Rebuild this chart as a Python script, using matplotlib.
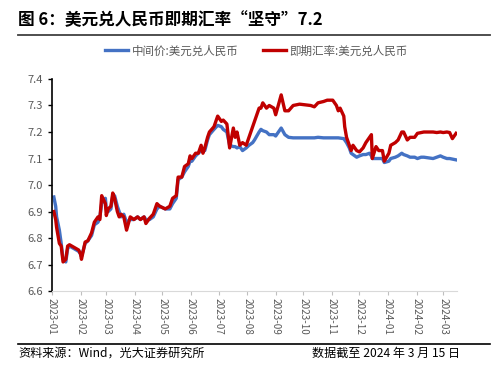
import matplotlib
matplotlib.use("Agg")
import matplotlib.pyplot as plt
import matplotlib.dates as mdates
import pandas as pd

plt.rcParams['font.family'] = ['Noto Sans CJK SC', 'DejaVu Sans']

# 日期 / 即期汇率 / 中间价 (数值读自原图)
dates = [
    "2023-01-03", "2023-01-05", "2023-01-06", "2023-01-09", "2023-01-11", "2023-01-13",
    "2023-01-16", "2023-01-18", "2023-01-20", "2023-01-30", "2023-02-01", "2023-02-02",
    "2023-02-06", "2023-02-09", "2023-02-13", "2023-02-16", "2023-02-20", "2023-02-22",
    "2023-02-24", "2023-02-28", "2023-03-01", "2023-03-03", "2023-03-06", "2023-03-08",
    "2023-03-10", "2023-03-13", "2023-03-15", "2023-03-17", "2023-03-20", "2023-03-23",
    "2023-03-27", "2023-03-31", "2023-04-04", "2023-04-07", "2023-04-11", "2023-04-13",
    "2023-04-17", "2023-04-21", "2023-04-25", "2023-04-28", "2023-05-04", "2023-05-09",
    "2023-05-12", "2023-05-16", "2023-05-18", "2023-05-22", "2023-05-25", "2023-05-29",
    "2023-05-31", "2023-06-02", "2023-06-06", "2023-06-09", "2023-06-12", "2023-06-14",
    "2023-06-16", "2023-06-19", "2023-06-21", "2023-06-26", "2023-06-30", "2023-07-04",
    "2023-07-06", "2023-07-10", "2023-07-13", "2023-07-17", "2023-07-19", "2023-07-21",
    "2023-07-24", "2023-07-27", "2023-07-31", "2023-08-03", "2023-08-07", "2023-08-09",
    "2023-08-14", "2023-08-16", "2023-08-18", "2023-08-22", "2023-08-25", "2023-08-30",
    "2023-09-01", "2023-09-07", "2023-09-11", "2023-09-15", "2023-09-20", "2023-09-27",
    "2023-10-09", "2023-10-13", "2023-10-17", "2023-10-23", "2023-10-27", "2023-11-02",
    "2023-11-06", "2023-11-08", "2023-11-10", "2023-11-14", "2023-11-15", "2023-11-17",
    "2023-11-20", "2023-11-22", "2023-11-24", "2023-11-28", "2023-12-01", "2023-12-05",
    "2023-12-08", "2023-12-12", "2023-12-14", "2023-12-15", "2023-12-19", "2023-12-22",
    "2023-12-26", "2023-12-28", "2024-01-02", "2024-01-04", "2024-01-09", "2024-01-12",
    "2024-01-16", "2024-01-18", "2024-01-22", "2024-01-25", "2024-01-30", "2024-02-02",
    "2024-02-06", "2024-02-09", "2024-02-19", "2024-02-23", "2024-02-27", "2024-03-01",
    "2024-03-05", "2024-03-08", "2024-03-11", "2024-03-13", "2024-03-15",
]
spot = [
    6.90, 6.87, 6.84, 6.78, 6.77, 6.71,
    6.72, 6.77, 6.775, 6.755, 6.74, 6.72,
    6.785, 6.79, 6.82, 6.86, 6.88, 6.87,
    6.96, 6.93, 6.885, 6.91, 6.92, 6.97,
    6.95, 6.90, 6.88, 6.89, 6.88, 6.83,
    6.88, 6.87, 6.88, 6.87, 6.88, 6.855,
    6.875, 6.89, 6.93, 6.92, 6.91, 6.92,
    6.95, 6.96, 7.03, 7.03, 7.07, 7.08,
    7.11, 7.10, 7.12, 7.12, 7.15, 7.12,
    7.14, 7.18, 7.20, 7.22, 7.26, 7.24,
    7.245, 7.23, 7.14, 7.215, 7.18, 7.20,
    7.15, 7.16, 7.15, 7.18, 7.22, 7.24,
    7.29, 7.29, 7.31, 7.29, 7.30, 7.29,
    7.265, 7.34, 7.28, 7.28, 7.30, 7.305,
    7.30, 7.295, 7.31, 7.315, 7.32, 7.32,
    7.30, 7.28, 7.29, 7.26, 7.22, 7.18,
    7.15, 7.13, 7.15, 7.13, 7.125, 7.14,
    7.16, 7.18, 7.19, 7.10, 7.145, 7.13,
    7.13, 7.09, 7.12, 7.15, 7.16, 7.17,
    7.20, 7.20, 7.17, 7.18, 7.18, 7.195,
    7.198, 7.20, 7.20, 7.198, 7.20, 7.198,
    7.20, 7.198, 7.175, 7.185, 7.195,
]
mid = [
    6.955, 6.92, 6.88, 6.83, 6.78, 6.72,
    6.71, 6.76, 6.77, 6.75, 6.74, 6.73,
    6.78, 6.79, 6.81, 6.85, 6.86, 6.88,
    6.93, 6.95, 6.91, 6.90, 6.91, 6.96,
    6.96, 6.92, 6.90, 6.88, 6.89, 6.86,
    6.87, 6.87, 6.88, 6.87, 6.88, 6.87,
    6.87, 6.88, 6.91, 6.92, 6.91, 6.91,
    6.93, 6.95, 7.02, 7.03, 7.05, 7.07,
    7.09, 7.09, 7.11, 7.12, 7.13, 7.13,
    7.13, 7.17, 7.19, 7.21, 7.225, 7.22,
    7.21, 7.20, 7.15, 7.145, 7.145, 7.14,
    7.145, 7.13, 7.14, 7.15, 7.16, 7.17,
    7.20, 7.21, 7.205, 7.20, 7.19, 7.19,
    7.185, 7.215, 7.19, 7.18, 7.178, 7.178,
    7.178, 7.178, 7.18, 7.178, 7.178, 7.178,
    7.178, 7.178, 7.177, 7.175, 7.17, 7.16,
    7.14, 7.12, 7.115, 7.105, 7.11, 7.115,
    7.115, 7.12, 7.11, 7.10, 7.10, 7.10,
    7.10, 7.085, 7.09, 7.10, 7.105, 7.11,
    7.12, 7.115, 7.11, 7.105, 7.105, 7.10,
    7.105, 7.105, 7.10, 7.105, 7.11, 7.105,
    7.10, 7.10, 7.098, 7.097, 7.095,
]
labels = ["中间价:美元兑人民币", "即期汇率:美元兑人民币"]
yticks = [6.6, 6.7, 6.8, 6.9, 7.0, 7.1, 7.2, 7.3, 7.4]

x = pd.to_datetime(dates)

fig = plt.figure(figsize=(5, 3.69), dpi=100)
ax = fig.add_axes([0.104, 0.211, 0.81, 0.575])

ax.plot(x, mid, color='#4472C4', lw=2.4, label=labels[0])
ax.plot(x, spot, color='#C00000', lw=2.4, label=labels[1])

ax.set_ylim(6.6, 7.4)
ax.set_yticks(yticks)
ax.set_yticklabels([f"{v:.1f}" for v in yticks])
ax.set_xlim(pd.Timestamp("2023-01-01"), pd.Timestamp("2024-03-16"))
ax.xaxis.set_major_locator(mdates.MonthLocator())
ax.xaxis.set_major_formatter(mdates.DateFormatter("%Y-%m"))
for lbl in ax.get_xticklabels():
    lbl.set_rotation(-90)

ax.tick_params(axis='y', labelsize=8, colors='#595959', length=3, width=1)
ax.tick_params(axis='x', labelsize=7.2, colors='#595959', length=3, width=0.8, pad=2)
ax.tick_params(axis='y', color='black')
ax.tick_params(axis='x', color='#bfbfbf')
ax.spines['top'].set_visible(False)
ax.spines['right'].set_visible(False)
ax.spines['left'].set_color('black')
ax.spines['left'].set_linewidth(1.2)
ax.spines['bottom'].set_color('#d9d9d9')

fig.legend(loc='center', bbox_to_anchor=(0.513, 0.862), ncol=2, frameon=False,
           fontsize=8.3, labelcolor='#595959', handlelength=2.0, columnspacing=2.1,
           handletextpad=0.3)

# 标题与上下分隔线
fig.text(0.036, 0.945, "图 6：美元兑人民币即期汇率“坚守”7.2", fontsize=12,
         fontweight='bold', ha='left', va='center')
fig.add_artist(plt.Line2D([0.036, 0.98], [0.905, 0.905], color='#404040', lw=1.3))
fig.add_artist(plt.Line2D([0.036, 0.98], [0.068, 0.068], color='black', lw=1.2))
fig.text(0.036, 0.043, "资料来源：Wind，光大证券研究所", fontsize=8.7, ha='left', va='center')
fig.text(0.92, 0.043, "数据截至 2024 年 3 月 15 日", fontsize=8.7, ha='right', va='center')

fig.savefig("out.png", dpi=100)
